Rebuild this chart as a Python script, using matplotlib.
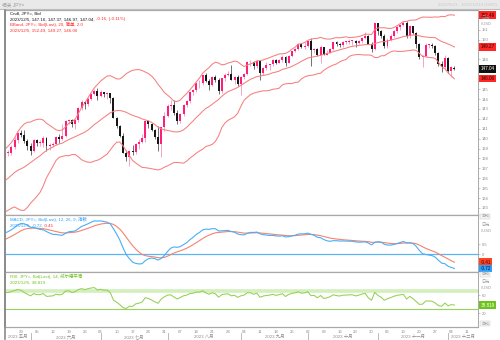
import numpy as np
import pandas as pd
import matplotlib
matplotlib.use("Agg")
import matplotlib.pyplot as plt
from matplotlib.patches import Rectangle
from matplotlib.lines import Line2D
from matplotlib.transforms import blended_transform_factory

plt.rcParams['font.family'] = ['Liberation Sans', 'Noto Sans CJK SC']

W, H = 500, 340

# ---------------------------------------------------------------- data
start_date = '2023-05-22'
view_end = '2023-12-14'

# closes 2023-03-01 .. 2023-05-19, used only to seed the indicators
warmup_close = [
    136.2, 136.8, 135.9, 135.9, 137.2, 137.4, 136.1, 135.0, 133.2, 134.2,
    133.4, 133.7, 131.8, 131.3, 132.5, 131.4, 130.8, 130.7, 131.5, 130.9,
    132.8, 132.7, 132.8, 132.4, 131.7, 131.3, 131.8, 132.2, 133.6, 133.7,
    133.1, 132.6, 133.8, 134.5, 134.1, 134.7, 134.2, 134.1, 134.3, 133.7,
    133.6, 133.9, 136.3, 137.5, 136.5, 134.6, 134.3, 134.8, 135.1, 135.2,
    134.4, 134.5, 135.7, 136.1, 136.4, 137.6, 138.7, 137.9,
]

# daily JPY= candles, 2023-05-22 .. 2023-12-05
opens = [
    137.9, 138.6, 138.6, 139.2, 139.9, 140.6, 140.4, 139.8, 139.3, 138.8,
    139.9, 139.6, 139.6, 140.1, 139.3, 139.4, 139.5, 140.2, 140.0, 140.3,
    141.8, 141.9, 141.5, 141.9, 143.1, 143.7, 143.5, 144.0, 144.5, 144.8,
    144.3, 144.7, 144.5, 144.6, 144.1, 142.1, 141.3, 140.3, 138.6, 138.1,
    138.8, 138.7, 139.5, 139.7, 140.1, 141.8, 141.5, 140.9, 140.2, 139.5,
    141.2, 142.3, 143.3, 143.4, 142.6, 141.8, 142.5, 143.4, 143.8, 144.7,
    144.9, 145.6, 145.6, 146.4, 145.8, 145.4, 146.2, 145.9, 144.8, 146.1,
    146.4, 146.5, 145.9, 146.2, 145.5, 146.2, 146.5, 147.7, 147.7, 147.3,
    147.8, 146.6, 147.1, 147.4, 147.5, 147.9, 147.6, 147.9, 148.3, 147.6,
    148.4, 148.9, 149.1, 149.6, 149.3, 149.4, 149.9, 149.0, 149.1, 148.5,
    149.3, 148.5, 148.7, 149.1, 149.8, 149.6, 149.5, 149.8, 149.8, 149.9,
    149.9, 149.7, 149.9, 150.2, 150.4, 149.6, 149.1, 151.7, 150.9, 150.4,
    149.4, 150.0, 150.4, 150.9, 151.3, 151.5, 151.7, 150.4, 151.4, 150.7,
    149.6, 148.3, 148.4, 149.5, 149.5, 149.4, 148.7, 147.5, 147.2, 148.2,
    146.8, 147.16,
]
highs = [
    138.7, 138.9, 139.4, 140.2, 140.7, 140.9, 140.9, 140.0, 139.6, 140.0,
    140.0, 139.9, 140.3, 140.2, 139.6, 139.7, 140.3, 140.5, 141.5, 141.9,
    142.0, 142.0, 142.0, 143.2, 143.9, 143.8, 144.2, 144.6, 145.0, 145.1,
    144.9, 144.7, 144.7, 144.6, 144.2, 142.2, 141.4, 140.6, 138.9, 138.9,
    139.4, 139.6, 140.0, 140.5, 141.9, 141.9, 141.6, 141.0, 141.3, 141.2,
    142.7, 143.5, 143.9, 143.9, 142.9, 142.6, 143.5, 143.9, 144.8, 145.0,
    145.6, 145.9, 146.4, 146.6, 146.0, 146.3, 146.4, 146.1, 146.1, 146.6,
    146.8, 147.4, 146.3, 146.4, 146.3, 146.6, 147.8, 147.9, 147.8, 147.9,
    147.9, 147.2, 147.7, 147.5, 148.0, 148.0, 148.0, 148.5, 148.4, 148.5,
    148.9, 149.2, 149.7, 149.7, 149.8, 149.9, 150.2, 149.2, 149.2, 149.5,
    149.3, 149.0, 149.2, 149.8, 149.9, 149.7, 149.9, 149.9, 150.1, 150.0,
    150.0, 150.0, 150.3, 150.8, 150.5, 149.8, 151.7, 151.7, 151.0, 150.6,
    150.2, 150.6, 151.0, 151.4, 151.6, 151.9, 151.9, 151.5, 151.4, 150.8,
    149.7, 148.5, 149.7, 149.6, 149.7, 149.5, 148.8, 147.8, 148.5, 148.3,
    147.3, 147.37,
]
lows = [
    137.6, 138.2, 138.4, 139.0, 139.6, 140.2, 139.6, 138.9, 138.4, 138.7,
    139.3, 139.3, 139.2, 138.8, 138.9, 139.2, 139.4, 139.6, 139.9, 140.2,
    141.5, 141.2, 141.0, 141.7, 142.9, 143.0, 143.3, 143.9, 144.4, 143.9,
    144.2, 144.2, 144.0, 143.6, 142.1, 141.1, 140.2, 138.6, 137.7, 137.2,
    138.4, 138.5, 139.0, 139.6, 139.7, 141.1, 140.8, 140.0, 138.8, 138.1,
    140.8, 142.2, 142.9, 142.4, 141.5, 141.6, 142.3, 143.2, 143.6, 144.4,
    144.7, 145.1, 145.4, 145.7, 144.9, 145.3, 145.7, 144.5, 144.6, 145.8,
    146.3, 145.9, 145.5, 145.3, 144.4, 146.0, 146.4, 147.3, 147.0, 147.1,
    145.9, 146.4, 146.9, 146.9, 147.3, 147.5, 147.6, 147.7, 147.3, 147.6,
    148.3, 148.8, 149.0, 149.2, 149.1, 149.3, 147.3, 148.7, 148.4, 147.6,
    148.5, 148.5, 148.7, 149.0, 149.4, 149.3, 149.3, 149.6, 149.6, 149.5,
    149.3, 149.6, 149.7, 150.1, 149.6, 148.8, 149.0, 150.5, 150.2, 149.2,
    149.2, 149.9, 150.3, 150.7, 151.0, 151.4, 150.2, 150.2, 150.6, 149.2,
    148.1, 147.2, 148.3, 149.2, 149.2, 148.5, 147.3, 146.7, 146.9, 146.6,
    146.2, 146.97,
]
closes = [
    138.6, 138.6, 139.2, 139.9, 140.6, 140.4, 139.8, 139.3, 138.8, 139.9,
    139.6, 139.6, 140.1, 139.3, 139.4, 139.5, 140.2, 140.0, 140.3, 141.8,
    141.9, 141.5, 141.9, 143.1, 143.7, 143.5, 144.0, 144.5, 144.8, 144.3,
    144.7, 144.5, 144.6, 144.1, 142.1, 141.3, 140.3, 138.6, 138.1, 138.8,
    138.7, 139.5, 139.7, 140.1, 141.8, 141.5, 140.9, 140.2, 139.5, 141.2,
    142.3, 143.3, 143.4, 142.6, 141.8, 142.5, 143.4, 143.8, 144.7, 144.9,
    145.6, 145.6, 146.4, 145.8, 145.4, 146.2, 145.9, 144.8, 146.1, 146.4,
    146.5, 145.9, 146.2, 145.5, 146.2, 146.5, 147.7, 147.7, 147.3, 147.8,
    146.6, 147.1, 147.4, 147.5, 147.9, 147.6, 147.9, 148.3, 147.6, 148.4,
    148.9, 149.1, 149.6, 149.3, 149.4, 149.9, 149.0, 149.1, 148.5, 149.3,
    148.5, 148.7, 149.1, 149.8, 149.6, 149.5, 149.8, 149.8, 149.9, 149.9,
    149.7, 149.9, 150.2, 150.4, 149.6, 149.1, 151.7, 150.9, 150.4, 149.4,
    150.0, 150.4, 150.9, 151.3, 151.5, 151.7, 150.4, 151.4, 150.7, 149.6,
    148.3, 148.4, 149.5, 149.5, 149.4, 148.7, 147.5, 147.2, 148.2, 146.8,
    147.2, 147.04,
]

month_names = ['一月', '二月', '三月', '四月', '五月', '六月',
               '七月', '八月', '九月', '十月', '十一月', '十二月']

# values shown in the legends and right-hand value boxes
bb_last = [152.49, 149.27, 146.06]
last_close = 147.04
macd_last, signal_last = -0.72, -0.41
rsi_last = 38.819

# price ticks whose labels sit under a value box
price_ticks = [133, 134, 135, 136, 137, 138, 139, 140, 141, 142, 143, 144,
               145, 148, 150, 151]
macd_ticks = [0, 0.5]
rsi_ticks = [20, 60]

# ---------------------------------------------------------- indicators
full = pd.Series(warmup_close + closes, dtype=float)
nw = len(warmup_close)
mid = full.rolling(20).mean()
sd = full.rolling(20).std(ddof=0)
upper, lower = mid + 2.0 * sd, mid - 2.0 * sd
ema12 = full.ewm(span=12, adjust=False).mean()
ema26 = full.ewm(span=26, adjust=False).mean()
macd = ema12 - ema26
signal = macd.ewm(span=9, adjust=False).mean()
delta = full.diff()
gain = delta.clip(lower=0).ewm(alpha=1 / 14, adjust=False).mean()
loss = (-delta.clip(upper=0)).ewm(alpha=1 / 14, adjust=False).mean()
rsi = 100 - 100 / (1 + gain / loss)

mid, upper, lower = mid[nw:].values, upper[nw:].values, lower[nw:].values
macd, signal, rsi = macd[nw:].values, signal[nw:].values, rsi[nw:].values

o, h, l, c = map(np.asarray, (opens, highs, lows, closes))
x = np.arange(len(c))
view_dates = pd.bdate_range(start_date, view_end)
xlim = (-0.02, len(view_dates) - 1 + 0.4)

# ---------------------------------------------------------------- figure
fig = plt.figure(figsize=(W / 100, H / 100), dpi=100)
fig.patch.set_facecolor('white')


def px_rect(x0, y0, x1, y1):
    return [x0 / W, 1 - y1 / H, (x1 - x0) / W, (y1 - y0) / H]


def fx(px):
    return px / W


def fy(py):
    return 1 - py / H


# header strip
fig.patches.append(Rectangle((0, fy(8.5)), 1, 8.5 / H, transform=fig.transFigure,
                             fc='#e9e9e9', ec='none', zorder=0))
fig.lines.append(Line2D([0, 1], [fy(8.8)] * 2, transform=fig.transFigure,
                        color='#bdbdbd', lw=0.8))
fig.text(fx(2.5), fy(4.6), '相关 JPY=', fontsize=3.4, color='#9c9c9c', va='center')
fig.text(fx(497), fy(4.6), '2023/5/23 - 2023/12/14 (GMT)', fontsize=3.2,
         color='#c9c9c9', va='center', ha='right')

ax_p = fig.add_axes(px_rect(5, 10, 478, 215))
ax_m = fig.add_axes(px_rect(5, 215, 478, 272))
ax_r = fig.add_axes(px_rect(5, 272, 478, 327))

for ax in (ax_p, ax_m, ax_r):
    ax.set_xlim(*xlim)
    ax.set_facecolor('white')
    for side in ('top', 'bottom'):
        ax.spines[side].set_color('#a8a8a8')
        ax.spines[side].set_linewidth(0.9)
    ax.spines['left'].set_color('#8c8c8c')
    ax.spines['left'].set_linewidth(1.3)
    ax.spines['right'].set_color('#9a9a9a')
    ax.spines['right'].set_linewidth(0.6)
    ax.yaxis.tick_right()
    ax.tick_params(axis='y', direction='out', length=1.5, width=0.4,
                   colors='#a0a0a0', labelsize=3.0, pad=1.5, labelcolor='#8a8a8a')
    ax.tick_params(axis='x', length=0)

ax_p.set_xticks([])
ax_m.set_xticks([])

# ------------------------------------------------------------- candles
up = c >= o
up_body, up_wick = '#ff1f7a', '#f7a3c6'
dn_body, dn_wick = '#161616', '#707070'
ax_p.vlines(x, l, h, colors=np.where(up, up_wick, dn_wick), lw=0.7, zorder=2)
body_h = np.maximum(np.abs(c - o), 0.06)
ax_p.bar(x, body_h, bottom=np.minimum(o, c), width=0.62,
         color=np.where(up, up_body, dn_body), linewidth=0, zorder=3)

bb_col = '#f77f7f'
for band in (upper, mid, lower):
    ax_p.plot(x, band, color=bb_col, lw=0.75, zorder=4)

ax_p.set_ylim(132.29, 153.0)
ax_p.set_yticks(price_ticks)
ax_p.set_yticklabels([str(v) for v in price_ticks])

# --------------------------------------------------------------- MACD
ax_m.axhline(0, color='#5ab6f4', lw=0.9, zorder=1)
ax_m.plot(x, signal, color='#f5836f', lw=0.8, zorder=2)
ax_m.plot(x, macd, color='#49aef6', lw=0.8, zorder=3)
ax_m.set_ylim(-0.9, 1.95)
ax_m.set_yticks(macd_ticks)
ax_m.set_yticklabels([f'{v:g}' for v in macd_ticks])

# ---------------------------------------------------------------- RSI
ax_r.axhline(70, color='#d3efbd', lw=2.6, zorder=1)
ax_r.axhline(30, color='#95d55c', lw=0.8, zorder=1)
ax_r.plot(x, rsi, color='#93d052', lw=0.75, zorder=2)
ax_r.set_ylim(-10, 112.2)
ax_r.set_yticks(rsi_ticks)
ax_r.set_yticklabels([str(v) for v in rsi_ticks])

# date axis: Mondays with day number, months underneath
mondays = [i for i, d in enumerate(view_dates) if d.weekday() == 0 and i > 0]
ax_r.set_xticks(mondays)
ax_r.set_xticklabels([view_dates[i].strftime('%d') for i in mondays])
ax_r.tick_params(axis='x', length=0, pad=2.0, labelsize=3.1, labelcolor='#8e8e8e')

bt = blended_transform_factory(ax_r.transData, fig.transFigure)
month_starts = [i for i in range(1, len(view_dates))
                if view_dates[i].month != view_dates[i - 1].month]
edges = [xlim[0]] + month_starts + [xlim[1]]
months = [view_dates[0].month] + [view_dates[i].month for i in month_starts]
for k, m in enumerate(months):
    cx = (edges[k] + edges[k + 1]) / 2
    ax_r.text(cx, fy(336.8), f'2023 {month_names[m - 1]}', transform=bt,
              fontsize=3.2, color='#8e8e8e', ha='center', va='center', clip_on=False)
for s in month_starts:
    ax_r.add_line(Line2D([s, s], [fy(333), fy(339.5)], transform=bt,
                         color='#b0b0b0', lw=0.6, clip_on=False))

# left border running down through the date rows
fig.lines.append(Line2D([fx(5.4)] * 2, [fy(10), fy(339)], transform=fig.transFigure,
                        color='#8c8c8c', lw=1.2))


# ---------------------------------------------------- right value boxes
def value_box(ax, y, label, fc, tc):
    tr = blended_transform_factory(ax.transAxes, ax.transData)
    ax.text(1.0 + 2.5 / 473, y, label, transform=tr, fontsize=3.3, color=tc,
            ha='left', va='center', clip_on=False, zorder=10,
            bbox=dict(boxstyle='square,pad=0.28', fc=fc, ec='none'))


value_box(ax_p, bb_last[0], f'{bb_last[0]:.2f}', '#ff2626', '#3b0000')
value_box(ax_p, bb_last[1], f'{bb_last[1]:.2f}', '#ff2626', '#3b0000')
value_box(ax_p, last_close, f'{last_close:.2f}', '#111111', '#ffffff')
value_box(ax_p, bb_last[2], f'{bb_last[2]:.2f}', '#ff2626', '#3b0000')
value_box(ax_m, signal_last, f'{signal_last:.2f}', '#ff4322', '#3b0000')
value_box(ax_m, macd_last, f'{macd_last:.2f}', '#2e9dfb', '#002040')
value_box(ax_r, rsi_last, f'{rsi_last:.3f}', '#6cc31a', '#ffffff')

# unit captions and scale buttons on the right axis
for y0 in (18.0, 225.0, 282.0):
    fig.text(fx(481), fy(y0), '日元', fontsize=3.0, color='#9a9a9a', va='center')
    fig.text(fx(481), fy(y0 + 6.3), '/USD', fontsize=3.0, color='#9a9a9a', va='center')
for y0 in (216.2, 274.2, 323.8):
    fig.text(fx(481), fy(y0), '自动', fontsize=2.9, color='#a5a5a5', va='center',
             bbox=dict(boxstyle='square,pad=0.15', fc='#f4f4f4', ec='#c8c8c8', lw=0.3))

# ------------------------------------------------------------- legends
renderer = fig.canvas.get_renderer()


def legend_line(x_px, base_px, parts, size=3.2):
    cur = x_px
    for text, col in parts:
        t = fig.text(cur / W, fy(base_px), text, fontsize=size, color=col,
                     ha='left', va='baseline')
        bb = t.get_window_extent(renderer=renderer)
        cur = bb.x1 + size * 0.28 * 100 / 72


red, blue, green = '#ff2a2a', '#2e9dfb', '#6cc31a'
legend_line(10, 14.6, [('Cndl, JPY=, Bid', '#111111')])
legend_line(10, 20.2, [('2023/12/5, 147.16, 147.37, 146.97, 147.04,', '#111111'),
                       ('-0.16, (-0.11%)', red)])
legend_line(10, 25.8, [('BBand, JPY=, Bid(Last), 20, 简单, 2.0', red)])
legend_line(10, 31.4, [('2023/12/5, 152.49, 149.27, 146.06', red)])

legend_line(10, 220.8, [('MACD, JPY=, Bid(Last), 12, 26, 9, 指数', blue)])
legend_line(10, 226.6, [('2023/12/5, -0.72,', blue), ('-0.41', red)])

legend_line(10, 277.6, [('RSI, JPY=, Bid(Last), 14, 威尔德平滑', green)])
legend_line(10, 283.3, [('2023/12/5, 38.819', green)])

fig.savefig('out.png', dpi=100, facecolor='white')
